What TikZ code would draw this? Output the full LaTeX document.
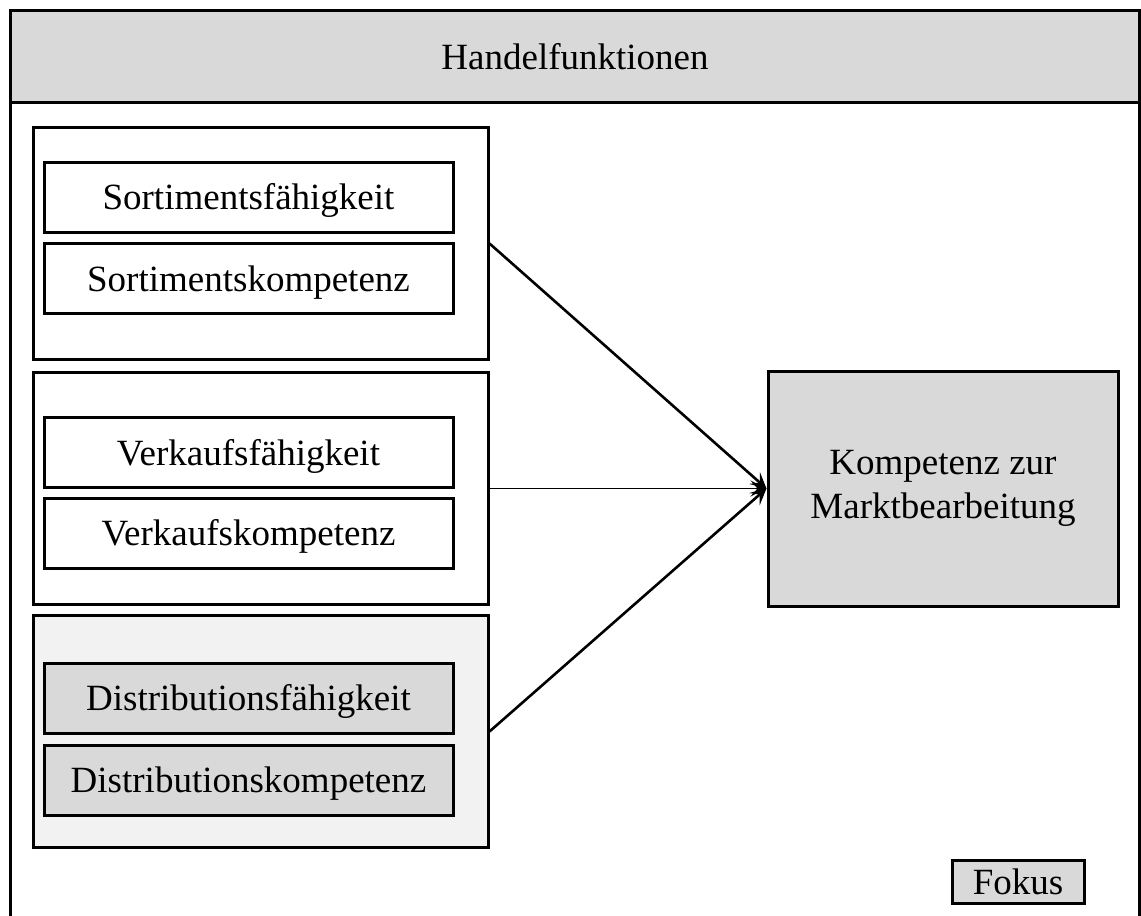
\documentclass[tikz,border=0pt]{standalone}
\usepackage{fontspec}
\setmainfont{Liberation Serif}
\usetikzlibrary{arrows.meta}
\definecolor{boxgray}{RGB}{217,217,217}
\definecolor{lightgray}{RGB}{242,242,242}
\begin{document}
\begin{tikzpicture}[x=1pt,y=-1pt,
  every node/.style={font=\fontsize{37}{44}\selectfont, inner sep=0pt, align=center},
  oneline/.style={text height=25pt, text depth=0pt},
  frame/.style={draw=black, line width=3pt},
  group/.style={frame, minimum width=455pt, minimum height=232pt},
  item/.style={frame, oneline, minimum width=409pt, minimum height=70pt},
  link/.style={line width=2.6pt, -{Stealth[length=16pt,width=16pt,inset=7pt]}}
]
\useasboundingbox (0,0) rectangle (1141,916);
\clip (0,0) rectangle (1141,916);

% outer frame with title bar
\draw[frame, fill=boxgray] (10.5,10.5) rectangle (1139.5,102) ;
\node[oneline] (title) at (575,57) {Handelfunktionen};
\draw[frame] (10.5,102) -- (10.5,930);
\draw[frame] (1139.5,102) -- (1139.5,930);

% function groups
\node[group] (g1) at (260.5,243.5) {};
\node[group] (g2) at (260.5,488.5) {};
\node[group, fill=lightgray] (g3) at (260.5,731.5) {};

\node[item] (s1) at (248.5,197) {Sortimentsfähigkeit};
\node[item] (s2) at (248.5,278.5) {Sortimentskompetenz};
\node[item] (v1) at (248.5,452.5) {Verkaufsfähigkeit};
\node[item] (v2) at (248.5,533) {Verkaufskompetenz};
\node[item, fill=boxgray] (d1) at (248.5,698) {Distributionsfähigkeit};
\node[item, fill=boxgray] (d2) at (248.5,780) {Distributionskompetenz};

% result
\node[frame, fill=boxgray, minimum width=350pt, minimum height=235pt] (target) at (943,488.5)
  {Kompetenz zur\\Marktbearbeitung};

\draw[link] (g1.east) -- (target.west);
\draw[link, line width=1.6pt] (g2.east) -- (target.west);
\draw[link] (g3.east) -- (target.west);

% legend
\node[frame, oneline, fill=boxgray, minimum width=132pt, minimum height=43pt] (fokus) at (1018,881.5) {Fokus};
\end{tikzpicture}
\end{document}
